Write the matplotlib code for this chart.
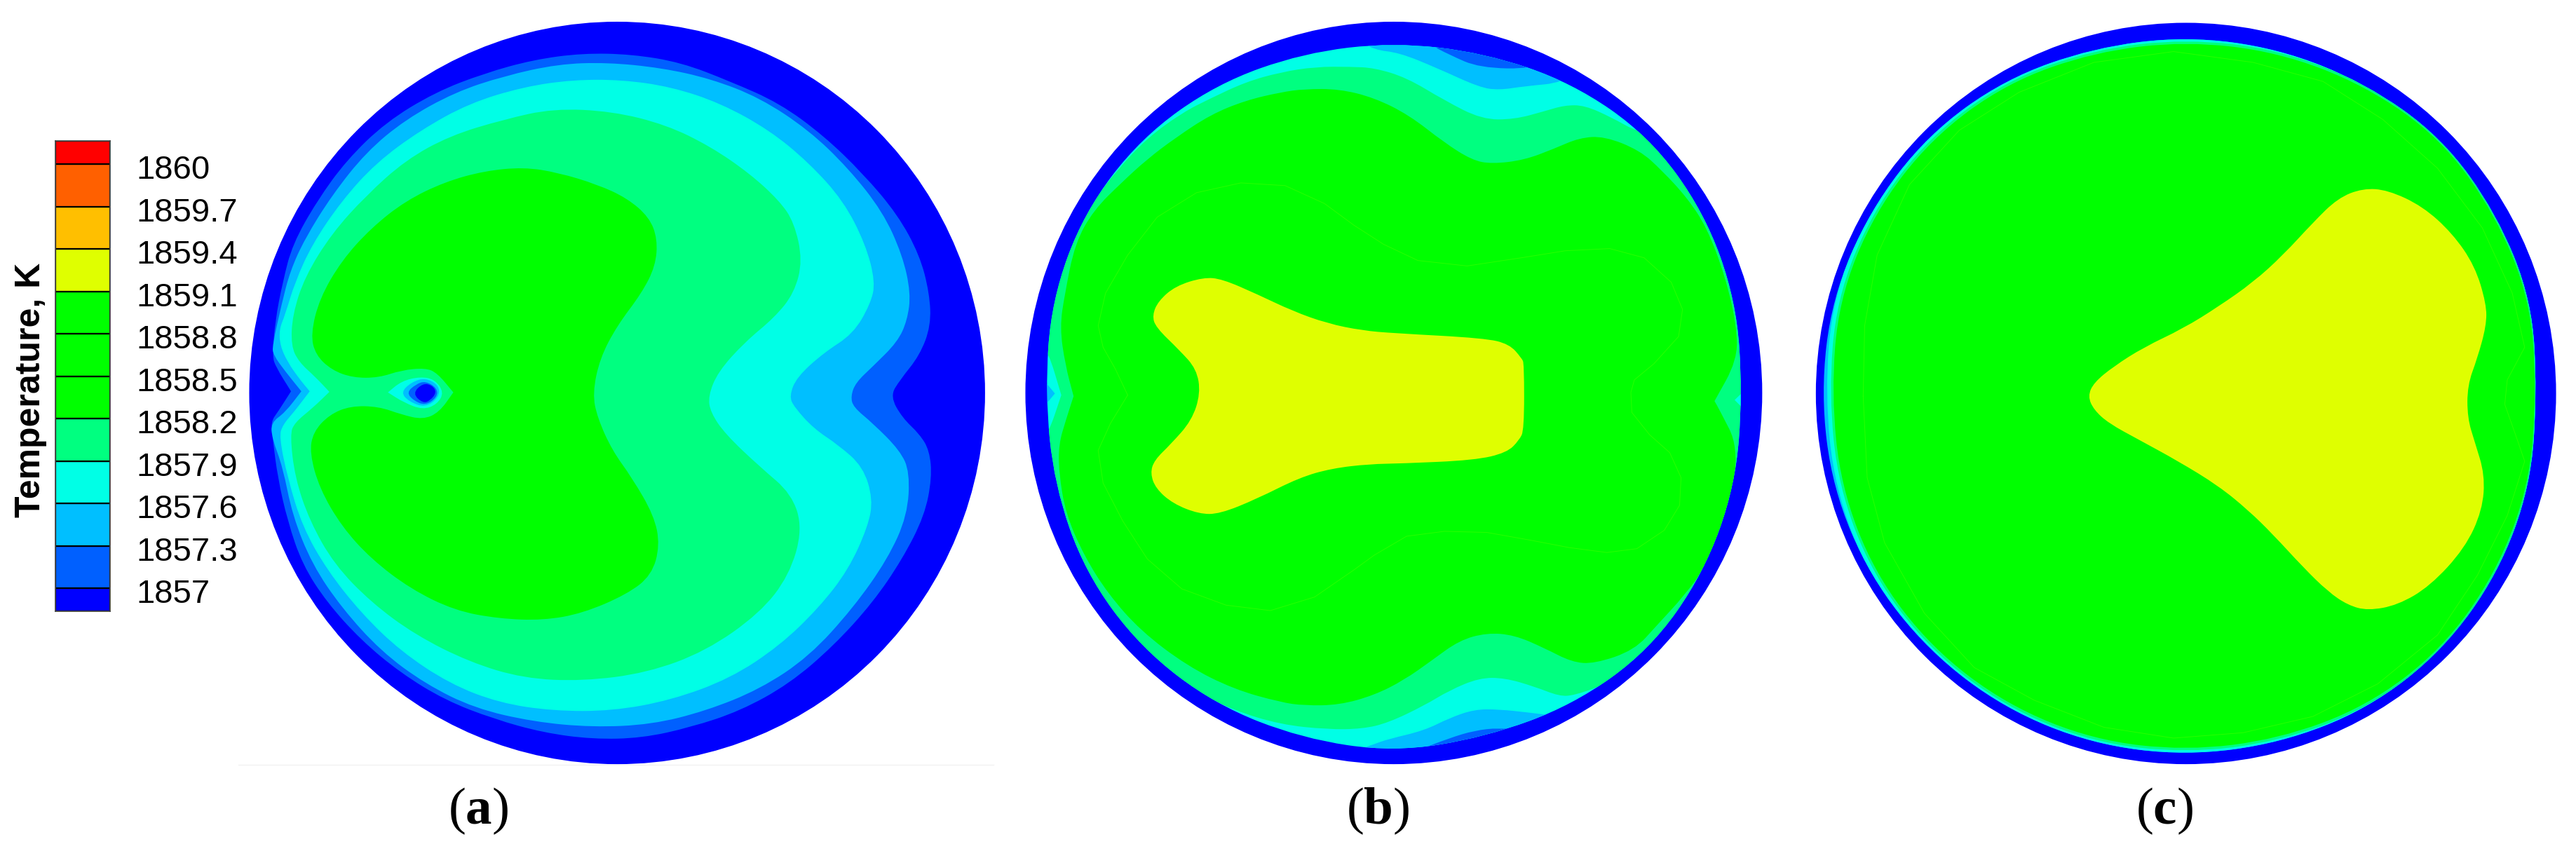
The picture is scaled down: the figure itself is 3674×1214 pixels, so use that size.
import numpy as np
import matplotlib as mpl
mpl.use('Agg')
import matplotlib.pyplot as plt
from matplotlib.patches import Ellipse, PathPatch
from matplotlib.path import Path

plt.rcParams['font.family'] = ['Liberation Sans', 'DejaVu Sans']
plt.rcParams['mathtext.fontset'] = 'custom'
plt.rcParams['mathtext.bf'] = 'Liberation Serif:bold'

W, H = 3674, 1214

BLUE, MID, SKY, CYAN, SPRING, GREEN, YELLOW = '#0000ff', '#0060ff', '#00bfff', '#00ffe6', '#00ff80', '#00ff00', '#dfff00'
FAINT = '#28ff00'

# legend
levels = [1857, 1857.3, 1857.6, 1857.9, 1858.2, 1858.5, 1858.8, 1859.1, 1859.4, 1859.7, 1860]
level_labels = ['1857', '1857.3', '1857.6', '1857.9', '1858.2', '1858.5', '1858.8', '1859.1', '1859.4', '1859.7', '1860']
legend_colors = [BLUE, MID, SKY, CYAN, SPRING, GREEN, GREEN, GREEN, YELLOW, '#ffbf00', '#ff6000', '#ff0000']

# isotherms, crop units (0..1568 both ways), a repeated point is a sharp corner
a_disc = (770, 724, 748, 684)
a_mid = [(1325,730),(1345,700),(1385,655),(1408,600),(1405,540),(1385,470),(1340,395),(1270,320),(1190,250),(1100,190),(1000,150),(900,115),(800,100),(700,98),(600,110),(500,135),(400,170),(300,225),(220,295),(160,370),(110,450),(90,520),(75,590),(69,656),(76,676),(107,721),(107,721),(81,758),(66,777),(70,810),(80,880),(100,960),(130,1040),(180,1110),(250,1180),(330,1240),(420,1290),(520,1325),(620,1350),(720,1362),(820,1360),(920,1340),(1020,1310),(1120,1260),(1210,1190),(1290,1110),(1350,1030),(1395,950),(1410,880),(1405,830),(1385,800),(1350,770)]
a_sky = [(1245,730),(1255,705),(1290,675),(1340,630),(1360,590),(1367,540),(1350,470),(1310,390),(1240,310),(1160,240),(1060,180),(960,145),(860,125),(750,115),(650,118),(540,140),(440,170),(340,220),(260,280),(190,360),(135,440),(105,500),(88,560),(69,637),(71,654),(95,684),(128,721),(128,721),(95,760),(66,779),(69,809),(90,860),(110,950),(150,1040),(210,1120),(290,1200),(380,1260),(480,1305),(600,1330),(720,1340),(840,1335),(950,1310),(1060,1270),(1160,1210),(1250,1120),(1320,1030),(1360,950),(1365,870),(1345,830),(1290,780),(1250,750)]
a_cyan = [(1120,730),(1135,695),(1190,650),(1250,615),(1285,560),(1295,520),(1275,450),(1230,370),(1160,300),(1080,240),(980,190),(880,160),(780,147),(680,147),(580,160),(470,190),(370,240),(280,300),(210,370),(150,450),(115,520),(95,580),(83,607),(85,637),(100,667),(123,697),(145,721),(145,721),(114,758),(90,783),(83,805),(100,880),(130,970),(180,1050),(250,1130),(330,1200),(430,1260),(530,1295),(640,1310),(760,1310),(880,1290),(1000,1250),(1100,1190),(1180,1120),(1240,1050),(1280,970),(1290,920),(1270,860),(1220,820),(1170,790),(1130,750)]
a_spring = [(955,730),(975,685),(1030,630),(1090,585),(1130,540),(1147,480),(1130,410),(1100,370),(1040,320),(960,270),(870,230),(760,205),(640,200),(540,220),(430,250),(340,295),(260,360),(190,430),(135,510),(110,580),(107,637),(123,667),(157,695),(185,722),(185,722),(152,751),(114,779),(105,801),(115,880),(145,960),(195,1040),(270,1110),(360,1170),(470,1220),(580,1250),(700,1255),(830,1240),(950,1200),(1060,1130),(1120,1060),(1147,975),(1125,910),(1060,860),(990,800),(960,760)]
a_green = [(720,725),(735,660),(770,600),(820,540),(848,490),(852,440),(835,400),(790,365),(730,340),(650,318),(580,308),(500,315),(420,335),(340,370),(270,420),(210,480),(165,550),(147,616),(157,654),(190,682),(233,696),(285,696),(332,682),(380,678),(404,687),(437,723),(437,723),(408,760),(375,773),(332,764),(285,749),(228,748),(185,764),(152,796),(145,835),(165,900),(210,970),(270,1030),(350,1085),(440,1125),(530,1140),(620,1143),(700,1130),(790,1095),(840,1060),(857,1005),(845,950),(800,880),(760,830),(730,770)]
a_spot_cyan = [(304,723),(304,723),(332,702),(370,694),(399,699),(418,723),(404,745),(375,755),(337,742)]
a_spot_sky = [(330,723),(352,704),(380,696),(408,710),(408,732),(380,751),(347,740)]
a_spot_mid = [(342,723),(361,708),(380,702),(404,715),(404,732),(380,747),(356,738)]
a_spot_blue = [(354,725),(375,706),(394,710),(403,723),(390,738),(375,743)]

# width of the blue rim in pixels, every 15 degrees anticlockwise from the right
rim_angles = list(range(0, 360, 15))
b_rim = [31, 23, 17, 14, 21, 30, 32, 30, 23, 18, 18, 23, 31, 27, 20, 18, 19, 22, 20, 24, 18, 13, 18, 24]
c_rim = [30, 20, 19, 15, 20, 22, 22, 21, 14, 10, 10, 8, 10, 9, 10, 12, 13, 14, 15, 15, 12, 13, 17, 22]
c_green_rim = [31, 22, 21, 17, 23, 27, 29, 27, 20, 17, 17, 18, 25, 21, 18, 18, 19, 20, 22, 21, 16, 15, 20, 24]

b_disc = (781, 724, 749, 684)
b_spring = [(105,728),(105,728),(78,646),(60,640),(60,420),(130,410),(142,418),(171,370),(218,314),(280,254),(352,207),(409,181),(480,151),(551,133),(622,123),(693,123),(741,125),(807,143),(884,185),(960,220),(1026,220),(1087,205),(1128,194),(1169,194),(1225,217),(1270,240),(1320,255),(1560,300),(1560,1150),(1300,1225),(1250,1244),(1199,1265),(1148,1281),(1118,1283),(1067,1265),(1006,1249),(955,1249),(894,1272),(843,1300),(769,1332),(717,1343),(646,1344),(551,1335),(456,1309),(370,1270),(294,1223),(233,1171),(190,1115),(175,1100),(120,1090),(60,960),(60,805),(78,801)]
b_green = [(130,730),(130,730),(113,672),(102,603),(112,542),(133,448),(171,387),(228,336),(280,293),(337,254),(409,211),(480,185),(551,170),(599,164),(670,164),(741,180),(812,212),(884,263),(940,295),(980,302),(1046,295),(1107,274),(1158,254),(1209,251),(1281,277),(1326,314),(1377,364),(1418,420),(1455,510),(1478,600),(1479,664),(1433,739),(1433,739),(1443,755),(1482,824),(1464,935),(1413,1046),(1372,1097),(1316,1152),(1270,1198),(1189,1223),(1143,1220),(1087,1194),(1026,1170),(970,1166),(914,1180),(858,1217),(802,1253),(741,1281),(670,1299),(599,1300),(551,1294),(456,1270),(361,1227),(266,1162),(200,1094),(152,1025),(114,947),(100,870),(100,818),(114,775)]
b_yellow = [(388,725),(380,680),(345,645),(297,603),(290,581),(302,555),(337,527),(394,511),(432,514),(503,542),(575,573),(646,596),(717,609),(782,614),(965,623),(1016,634),(1041,660),(1046,670),(1046,792),(1036,811),(1011,834),(945,848),(797,854),(732,855),(655,863),(589,880),(503,919),(427,947),(385,947),(332,928),(297,900),(286,872),(294,848),(328,818),(370,775)]
b_faint = [(240,728),(215,680),(190,640),(180,600),(195,540),(240,470),(300,400),(380,355),(470,337),(560,342),(640,375),(700,415),(760,450),(830,480),(930,490),(1040,475),(1130,462),(1220,458),(1290,475),(1345,520),(1368,570),(1360,620),(1310,670),(1270,700),(1263,723),(1265,760),(1301,801),(1342,834),(1365,880),(1362,931),(1331,977),(1275,1011),(1214,1018),(1138,1009),(1057,995),(970,981),(884,979),(807,988),(741,1023),(700,1050),(620,1100),(530,1125),(440,1115),(350,1085),(280,1030),(230,960),(190,890),(180,830),(205,780),(240,728)]
b_top_sky = [(703,70),(741,92),(792,97),(868,125),(955,161),(995,166),(1046,159),(1128,152),(1150,120),(1000,60)]
b_top_mid = [(850,80),(894,101),(955,125),(1067,127),(1100,100),(950,60)]
b_bot_sky = [(708,1382),(741,1371),(769,1362),(843,1346),(894,1323),(945,1307),(995,1307),(1057,1313),(1118,1320),(1140,1400),(740,1410)]
b_bot_mid = [(828,1383),(894,1360),(945,1346),(995,1341),(1046,1346),(1070,1400),(830,1400)]
b_left_sky = [(60,690),(92,725),(92,725),(60,760)]
b_right_cyan = [(1510,705),(1474,737),(1474,737),(1510,770)]

c_disc = (785, 725, 743, 683)
c_yellow = [(588,730),(600,705),(640,675),(700,640),(780,605),(850,565),(920,520),(980,470),(1040,410),(1090,365),(1140,347),(1190,350),(1260,380),(1320,430),(1365,490),(1388,560),(1388,600),(1370,660),(1350,710),(1350,770),(1365,815),(1385,875),(1380,940),(1345,1010),(1275,1080),(1210,1115),(1150,1125),(1110,1115),(1070,1090),(1020,1045),(960,985),(910,940),(850,895),(770,850),(690,810),(630,780),(600,755)]
c_faint = [(137,730),(140,600),(165,470),(230,340),(330,240),(450,170),(600,115),(760,95),(920,115),(1060,150),(1180,220),(1290,310),(1380,420),(1440,540),(1465,640),(1430,700),(1425,745),(1450,810),(1465,850),(1430,950),(1370,1060),(1290,1170),(1170,1260),(1040,1320),(900,1350),(760,1360),(620,1340),(480,1290),(360,1230),(260,1130),(180,1000),(145,880),(137,730)]

panel_names = ['a', 'b', 'c']
panel_left = [340, 1440, 2560]
panel_width = [1100, 1100, 1114]
label_x = [487, 748, 742]
DISC_R = 527


def rim_points(d, rim):
    # inner edge of the rim; 1.0055 makes up for the pull-in of the curve in smooth()
    pts = []
    for ang, t in zip(rim_angles, rim):
        f = (1 - t / DISC_R) * 1.0055
        th = np.radians(ang)
        pts.append((d[0] + f * d[2] * np.cos(th), d[1] - f * d[3] * np.sin(th)))
    return pts


def smooth(pts):
    # closed curve with the read points as control points
    n = len(pts)
    mids = [((pts[i][0] + pts[(i + 1) % n][0]) / 2, (pts[i][1] + pts[(i + 1) % n][1]) / 2) for i in range(n)]
    verts = [mids[-1]]
    codes = [Path.MOVETO]
    for i in range(n):
        verts += [pts[i], mids[i]]
        codes += [Path.CURVE3, Path.CURVE3]
    return Path(verts, codes)


def region(ax, pts, color, clip=None, ec='none', lw=0):
    p = ax.add_patch(PathPatch(smooth(pts), fc=color, ec=ec, lw=lw))
    if clip is not None:
        p.set_clip_path(clip)
    return p


def faint_line(ax, pts):
    xs, ys = zip(*pts)
    ax.plot(xs, ys, color=FAINT, lw=0.7)


def disc(ax, e):
    ax.add_patch(Ellipse((e[0], e[1]), 2 * e[2], 2 * e[3], fc=BLUE, ec='none', lw=0))


fig = plt.figure(figsize=(W / 100, H / 100), dpi=100, facecolor='w')

axes = []
for m in range(3):
    ax = fig.add_axes([panel_left[m] / W, 0, panel_width[m] / W, 1])
    ax.set_xlim(0, 1568)
    ax.set_ylim(1568, 0)
    ax.axis('off')
    ax.text(label_x[m], 1518, '($\\mathbf{%s}$)' % panel_names[m], family='Liberation Serif', fontsize=54,
            ha='center', va='baseline')
    axes.append(ax)

# panel a
ax = axes[0]
ax.plot([-20, 1535], [1409, 1409], color='#f2f2f2', lw=1)
disc(ax, a_disc)
for pts, col in [(a_mid, MID), (a_sky, SKY), (a_cyan, CYAN), (a_spring, SPRING), (a_green, GREEN),
                 (a_spot_cyan, CYAN), (a_spot_sky, SKY), (a_spot_mid, MID), (a_spot_blue, BLUE)]:
    region(ax, pts, col)

# panel b
ax = axes[1]
disc(ax, b_disc)
wall = region(ax, rim_points(b_disc, b_rim), CYAN)
for pts, col in [(b_spring, SPRING), (b_top_sky, SKY), (b_top_mid, MID), (b_bot_sky, SKY), (b_bot_mid, MID),
                 (b_left_sky, SKY), (b_green, GREEN), (b_right_cyan, CYAN), (b_yellow, YELLOW)]:
    region(ax, pts, col, clip=wall)
faint_line(ax, b_faint)

# panel c
ax = axes[2]
disc(ax, c_disc)
wall = region(ax, rim_points(c_disc, c_rim), SKY)
c_green = rim_points(c_disc, c_green_rim)
region(ax, c_green, CYAN, clip=wall, ec=CYAN, lw=13)
region(ax, c_green, SPRING, clip=wall, ec=SPRING, lw=5)
region(ax, c_green, GREEN, clip=wall)
faint_line(ax, c_faint)
region(ax, c_yellow, YELLOW)

# legend
cax = fig.add_axes([79 / W, 1 - 872 / H, 78 / W, 671 / H])
cax.set_xlim(0, 1)
cax.set_ylim(levels[0] - 0.162, levels[-1] + 0.164)
edges = [levels[0] - 0.162] + levels + [levels[-1] + 0.164]
for i, col in enumerate(legend_colors):
    cax.bar(0.5, edges[i + 1] - edges[i], 1, bottom=edges[i], color=col, ec='k', lw=1.6)
cax.set_xticks([])
cax.set_yticks([])
for s in cax.spines.values():
    s.set_linewidth(1.2)
    s.set_color('#444444')
for lev, lab in zip(levels, level_labels):
    cax.annotate(lab, (1, lev), xytext=(27, -6.5), textcoords='offset points', fontsize=34, va='center', ha='left')
fig.text(44 / W, 1 - 556 / H, 'Temperature, K', rotation=90, fontsize=36, fontweight='bold', ha='center', va='center')

fig.savefig('out.png', dpi=100)
